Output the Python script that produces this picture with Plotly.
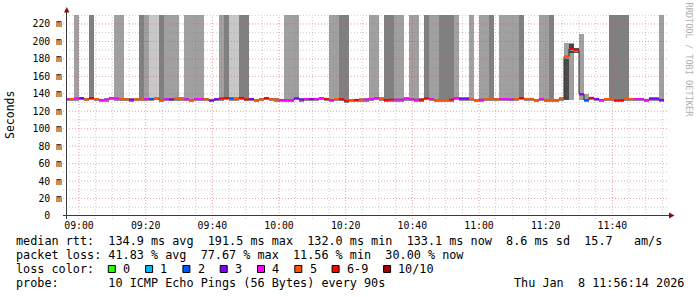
import plotly.graph_objects as go
from datetime import datetime, timedelta

# ---------------- data ----------------
FIRST_STEP_TIME = "2026-01-08 08:55:30"   # start of the first 90 s step
STEP_SECONDS = 90
X_RANGE = ["2026-01-08 08:56:24", "2026-01-08 11:56:24"]
Y_MAX_MS = 230.3
SMOKE_TOP_MS = 260.0          # upper pings are far above the visible range

LOSS_LABELS = ["0", "1", "2", "3", "4", "5", "6-9", "10/10"]
LOSS_COLORS = ["#26ff00", "#00b8ff", "#0059ff", "#7e00ff", "#ff00ff", "#ff5500", "#ff0000", "#a10000"]

# loss class per step (index into LOSS_LABELS)
step_loss = [
    4, 5, 4, 3, 5, 6, 5, 4, 4, 4,
    4, 5, 5, 3, 5, 5, 4, 2, 5, 5,
    4, 3, 5, 5, 4, 5, 4, 4, 5, 3,
    3, 6, 6, 2, 5, 6, 6, 3, 5, 5,
    6, 5, 5, 4, 4, 4, 3, 3, 4, 3,
    4, 4, 6, 4, 5, 6, 6, 5, 6, 5,
    4, 4, 4, 5, 6, 6, 4, 4, 4, 4,
    4, 6, 6, 4, 5, 5, 5, 6, 4, 3,
    3, 5, 5, 4, 5, 5, 5, 4, 4, 4,
    5, 6, 5, 5, 5, 4, 5, 5, 5, 5,
    5, 6, 6, 3, 2, 6, 3, 4, 5, 5,
    6, 6, 5, 5, 4, 4, 4, 3, 3, 3,
]

# median rtt per step (ms)
median_ms = [
    134.0, 134.2, 134.6, 135.0, 133.6, 135.2, 134.0, 133.0, 133.4, 135.3,
    134.6, 134.2, 133.6, 133.2, 133.6, 133.8, 134.0, 134.2, 134.8, 132.6,
    133.8, 133.6, 134.4, 134.4, 133.8, 132.8, 134.0, 134.0, 133.8, 132.4,
    133.8, 134.6, 135.2, 134.6, 134.4, 135.4, 133.6, 134.0, 132.8, 133.6,
    135.0, 133.8, 133.4, 133.0, 132.6, 132.6, 134.8, 133.4, 134.0, 134.0,
    134.2, 135.0, 134.2, 132.8, 134.0, 133.8, 132.0, 132.8, 133.0, 133.2,
    133.4, 134.2, 135.0, 134.4, 132.8, 133.4, 133.4, 133.2, 134.6, 133.8,
    133.2, 133.2, 134.8, 134.2, 132.8, 132.8, 133.0, 133.4, 135.0, 134.4,
    134.4, 134.0, 132.8, 133.2, 133.8, 134.0, 133.6, 134.0, 134.0, 133.6,
    134.0, 135.2, 134.2, 134.2, 132.8, 134.2, 133.0, 133.2, 133.0, 134.4,
    182.5, 191.5, 190.2, 139.5, 132.8, 135.4, 134.2, 133.0, 134.0, 134.0,
    132.4, 132.6, 134.2, 134.2, 134.0, 134.0, 133.0, 134.4, 134.4, 133.1,
]

# smoke shade per step: 0 none, 1 light, 2 medium, 3 dark (full-height smoke)
smoke_shade = [
    0, 0, 2, 0, 0, 3, 0, 0, 0, 0,
    2, 2, 0, 0, 0, 3, 2, 1, 1, 3,
    2, 2, 2, 0, 2, 2, 2, 2, 0, 0,
    0, 2, 3, 1, 1, 3, 3, 0, 0, 0,
    0, 0, 0, 0, 2, 2, 2, 0, 0, 0,
    0, 0, 0, 2, 2, 3, 3, 0, 0, 0,
    0, 2, 2, 0, 3, 3, 2, 2, 0, 2,
    2, 0, 3, 2, 2, 3, 3, 3, 2, 0,
    0, 2, 0, 2, 2, 3, 0, 2, 2, 2,
    2, 3, 0, 0, 0, 2, 2, 3, 0, 0,
    0, 0, 0, 0, 0, 0, 0, 0, 0, 3,
    3, 3, 3, 0, 0, 0, 0, 0, 0, 2,
]
SHADE_COLORS = {1: "#c8c8c8", 2: "#a0a0a0", 3: "#808080"}

# partial smoke around the spike (step index, low ms, high ms, colour)
spike_step = [100, 101, 100, 101, 102, 103, 104]
spike_lo = [132.5, 132.5, 132.5, 187.0, 186.5, 132.5, 132.5]
spike_hi = [198.0, 198.0, 182.0, 197.0, 192.0, 208.6, 139.5]
spike_color = ["#a0a0a0", "#a0a0a0", "#4a4a4a", "#454545", "#505050", "#a0a0a0", "#a0a0a0"]

X_TICK_TIMES = ["2026-01-08 09:00", "2026-01-08 09:20", "2026-01-08 09:40", "2026-01-08 10:00",
                "2026-01-08 10:20", "2026-01-08 10:40", "2026-01-08 11:00", "2026-01-08 11:20",
                "2026-01-08 11:40"]
X_TICK_LABELS = ["09:00", "09:20", "09:40", "10:00", "10:20", "10:40", "11:00", "11:20", "11:40"]
Y_TICK_VALUES = [0, 20, 40, 60, 80, 100, 120, 140, 160, 180, 200, 220]
Y_TICK_LABELS = ["0  ", "20 m", "40 m", "60 m", "80 m", "100 m", "120 m", "140 m",
                 "160 m", "180 m", "200 m", "220 m"]

RTT_STATS = [134.9, 191.5, 132.0, 133.1, 8.6, 15.7]     # avg max min now sd am/s
LOSS_STATS = [41.83, 77.67, 11.56, 30.00]               # avg max min now
PROBE_TEXT = "10 ICMP Echo Pings (56 Bytes) every 90s"
DATE_TEXT = "Thu Jan  8 11:56:14 2026"
WATERMARK = "RRDTOOL / TOBI OETIKER"

# ---------------- build ----------------
MONO = "DejaVu Sans Mono"
NB = lambda s: s.replace(" ", "\u00a0")

t0 = datetime.fromisoformat(FIRST_STEP_TIME)
n = len(median_ms)
starts = [t0 + timedelta(seconds=STEP_SECONDS * i) for i in range(n)]
ends = [s + timedelta(seconds=STEP_SECONDS) for s in starts]
W = STEP_SECONDS * 1000

fig = go.Figure()

# full-height smoke
for shade, col in SHADE_COLORS.items():
    idx = [i for i in range(n) if smoke_shade[i] == shade]
    fig.add_trace(go.Bar(
        x=[starts[i] for i in idx],
        y=[SMOKE_TOP_MS - median_ms[i] for i in idx],
        base=[median_ms[i] for i in idx],
        width=W, offset=0,
        marker=dict(color=col, line=dict(width=0)),
        hoverinfo="skip", showlegend=False))

# spike smoke
fig.add_trace(go.Bar(
    x=[starts[i] for i in spike_step],
    y=[h - l for h, l in zip(spike_hi, spike_lo)],
    base=spike_lo, width=W, offset=0,
    marker=dict(color=spike_color, line=dict(width=0)),
    hoverinfo="skip", showlegend=False))

# thin smoke around median
fig.add_trace(go.Bar(
    x=starts, y=[3.8] * n, base=[m - 2.3 for m in median_ms],
    width=W, offset=0,
    marker=dict(color="#8c8c8c", line=dict(width=0)),
    hoverinfo="skip", showlegend=False))

# dark step connector
fig.add_trace(go.Scatter(
    x=starts + [ends[-1]], y=median_ms + [median_ms[-1]],
    mode="lines", line=dict(color="#2a2a2a", width=1, shape="hv"),
    hoverinfo="skip", showlegend=False))

# coloured median segments by loss
for c, col in enumerate(LOSS_COLORS):
    xs, ys = [], []
    for i in range(n):
        if step_loss[i] == c:
            xs += [starts[i], ends[i], None]
            ys += [median_ms[i], median_ms[i], None]
    if xs:
        fig.add_trace(go.Scatter(x=xs, y=ys, mode="lines",
                                 line=dict(color=col, width=2),
                                 hoverinfo="skip", showlegend=False))

PL, PR, PT, PB = 67, 667, 15, 216
def px(x):
    return (x - PL) / (PR - PL)
def py(y):
    return (PB - y) / (PB - PT)

shapes = []
MAJOR = "rgba(220,70,70,0.5)"
MINOR = "rgba(120,120,120,0.38)"
DASH = "1px,2px"
# vertical grid every 5 minutes
xs0 = datetime.fromisoformat(X_RANGE[0])
xs1 = datetime.fromisoformat(X_RANGE[1])
g = datetime(2026, 1, 8, 9, 0)
while g - timedelta(minutes=5) > xs0:
    g -= timedelta(minutes=5)
while g < xs1:
    major = g.minute % 20 == 0
    shapes.append(dict(type="line", xref="x", yref="paper", x0=g, x1=g, y0=py(219), y1=1,
                       line=dict(color=MAJOR if major else MINOR, width=1, dash=DASH), layer="above"))
    g += timedelta(minutes=5)
# horizontal grid every 10 ms
v = 10
while v <= Y_MAX_MS:
    major = v % 20 == 0
    shapes.append(dict(type="line", xref="paper", yref="y", x0=px(63), x1=1, y0=v, y1=v,
                       line=dict(color=MAJOR if major else MINOR, width=1, dash=DASH), layer="above"))
    v += 10

AX = "#3a3a3a"
ARROW = "#7f1010"
shapes.append(dict(type="line", xref="paper", yref="paper", x0=px(66.5), x1=px(66.5), y0=py(219), y1=py(11),
                   line=dict(color=AX, width=1), layer="above"))
shapes.append(dict(type="line", xref="paper", yref="paper", x0=px(63), x1=px(669), y0=py(215.5), y1=py(215.5),
                   line=dict(color=AX, width=1), layer="above"))
shapes.append(dict(type="path", xref="paper", yref="paper",
                   path=f"M {px(64)},{py(12.5)} L {px(69.5)},{py(12.5)} L {px(66.75)},{py(7)} Z",
                   fillcolor=ARROW, line=dict(width=0), layer="above"))
shapes.append(dict(type="path", xref="paper", yref="paper",
                   path=f"M {px(669)},{py(212.5)} L {px(669)},{py(218.5)} L {px(674.5)},{py(215.5)} Z",
                   fillcolor=ARROW, line=dict(width=0), layer="above"))

annotations = []
def text(x, y, s, anchor="left", size=11.8, color="black", angle=0, yanchor="middle"):
    annotations.append(dict(x=px(x), y=py(y), xref="paper", yref="paper", text=NB(s),
                            showarrow=False, xanchor=anchor, yanchor=yanchor, textangle=angle,
                            borderpad=0, borderwidth=0,
                            font=dict(family=MONO, size=size, color=color)))

r = RTT_STATS
line1 = (f"median rtt:  {r[0]:.1f} ms avg  {r[1]:.1f} ms max  {r[2]:.1f} ms min  "
         f"{r[3]:.1f} ms now  {r[4]:.1f} ms sd  {r[5]:.1f}   am/s")
lo = LOSS_STATS
line2 = f"packet loss: {lo[0]:.2f} % avg  {lo[1]:.2f} % max  {lo[2]:.2f} % min  {lo[3]:.2f} % now"
text(16, 241, line1)
text(16, 255, line2)
text(16, 269, "loss color:")
text(16, 283, "probe:       " + PROBE_TEXT)
text(684, 283, DATE_TEXT, anchor="right")

CH = 7.1
left = 108.3
for lab, col in zip(LOSS_LABELS, LOSS_COLORS):
    shapes.append(dict(type="rect", xref="paper", yref="paper",
                       x0=px(left), x1=px(left + 7), y0=py(272.5), y1=py(265.5),
                       fillcolor=col, line=dict(color="black", width=1), layer="above"))
    text(left + 14.7, 269, lab)
    left += 37.3 + CH * (len(lab) - 1)

text(10, 115, "Seconds", anchor="center", size=11.5, angle=-90)
text(688.5, 60, WATERMARK, anchor="center", size=8.6, color="#b0b0b0", angle=90)

fig.update_layout(
    width=697, height=297,
    margin=dict(l=PL, r=697 - PR, t=PT, b=297 - PB),
    paper_bgcolor="white", plot_bgcolor="white",
    barmode="overlay", bargap=0, showlegend=False,
    shapes=shapes, annotations=annotations,
    xaxis=dict(type="date", range=X_RANGE, tickmode="array", tickvals=X_TICK_TIMES,
               ticktext=X_TICK_LABELS, showgrid=False, zeroline=False, showline=False,
               ticks="", automargin=False, ticklabelstandoff=2,
               tickfont=dict(family=MONO, size=9.8, color="black")),
    yaxis=dict(range=[0, Y_MAX_MS], tickmode="array", tickvals=Y_TICK_VALUES,
               ticktext=[NB(t) for t in Y_TICK_LABELS], showgrid=False, zeroline=False,
               showline=False, ticks="", automargin=False, ticklabelstandoff=4,
               tickfont=dict(family=MONO, size=9.8, color="black")),
)

fig.write_html("out.html")
